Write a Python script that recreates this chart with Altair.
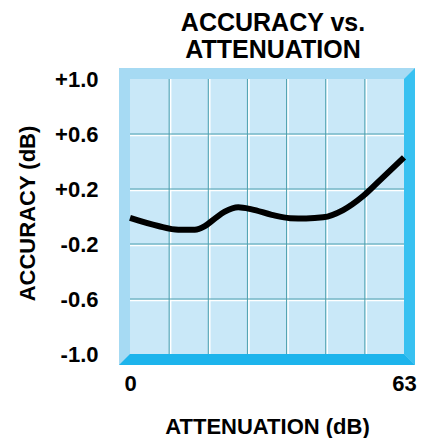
import altair as alt
import pandas as pd

# ---- data ----
atten = [0, 6.5, 11.1, 14.9, 17.2, 19.5, 21.8, 24.9, 28.0, 32.6, 36.8, 40.5, 44.4, 49.0, 53.6, 57.5, 63]
accuracy = [-0.01, -0.069, -0.096, -0.097, -0.07, -0.015, 0.035, 0.067, 0.052, 0.012, -0.012, -0.014, -0.006, 0.047, 0.149, 0.265, 0.43]
x_ticks = [0, 63]
x_grid = [9, 18, 27, 36, 45, 54]
y_ticks = [-1.0, -0.6, -0.2, 0.2, 0.6, 1.0]
y_grid = [-0.6, -0.2, 0.2, 0.6]
title_lines = ["ACCURACY vs.", "ATTENUATION"]
x_title = "ATTENUATION (dB)"
y_title = "ACCURACY (dB)"

# ---- layout / style ----
W, H, B = 274, 275, 11
FONT = "Liberation Sans"
INNER = "#c9e8f8"
FACE_LIGHT = "#a6daf3"
FACE_RIGHT = "#38c1f1"
FACE_BOTTOM = "#1db4ec"
GRID = "#4c9fae"

xs = alt.Scale(domain=[0, 63], nice=False, zero=False)
ys = alt.Scale(domain=[-1, 1], nice=False, zero=False)

one = alt.Data(values=[{}])

outer = alt.Chart(one).mark_rect(color=FACE_LIGHT).encode(
    x=alt.value(-B), x2=alt.value(W + B), y=alt.value(-B), y2=alt.value(H + B))

right_face = alt.Chart(alt.Data(values=[
    {"px": W, "py": 0, "py2": H},
    {"px": W + B, "py": -B, "py2": H + B},
])).mark_area(color=FACE_RIGHT, orient="vertical").encode(
    x=alt.X("px:Q", scale=None, axis=None),
    y=alt.Y("py:Q", scale=None, axis=None),
    y2="py2:Q")

bottom_face = alt.Chart(alt.Data(values=[
    {"py": H, "px": 0, "px2": W},
    {"py": H + B, "px": -B, "px2": W + B},
])).mark_area(color=FACE_BOTTOM, orient="horizontal").encode(
    y=alt.Y("py:Q", scale=None, axis=None),
    x=alt.X("px:Q", scale=None, axis=None),
    x2="px2:Q")

inner = alt.Chart(one).mark_rect(color=INNER).encode(
    x=alt.value(0), x2=alt.value(W), y=alt.value(0), y2=alt.value(H))

vdf = pd.DataFrame({"g": x_grid})
hdf = pd.DataFrame({"g": y_grid})

v_white = alt.Chart(vdf).mark_rule(color="white", strokeWidth=1.5, xOffset=1.5).encode(
    x=alt.X("g:Q", scale=xs, axis=None), y=alt.value(0), y2=alt.value(H))
v_grid = alt.Chart(vdf).mark_rule(color=GRID, strokeWidth=1).encode(
    x=alt.X("g:Q", scale=xs, axis=None), y=alt.value(0), y2=alt.value(H))
h_white = alt.Chart(hdf).mark_rule(color="white", strokeWidth=1.5, yOffset=1.5).encode(
    y=alt.Y("g:Q", scale=ys, axis=None), x=alt.value(0), x2=alt.value(W))
h_grid = alt.Chart(hdf).mark_rule(color=GRID, strokeWidth=1).encode(
    y=alt.Y("g:Q", scale=ys, axis=None), x=alt.value(0), x2=alt.value(W))

df = pd.DataFrame({"atten": atten, "acc": accuracy})
line = alt.Chart(df).mark_line(color="black", strokeWidth=6, interpolate="monotone").encode(
    x=alt.X("atten:Q", scale=xs, title=x_title,
            axis=alt.Axis(values=x_ticks, domain=False, ticks=False, tickSize=0, grid=False,
                          labelFlush=False, labelPadding=19, labelFontSize=22,
                          labelFont=FONT, labelFontWeight="bold", labelColor="black",
                          titleFont=FONT, titleFontSize=22, titleFontWeight="bold",
                          titleColor="black", titleX=W / 2, titleY=72,
                          titleBaseline="middle", titleAlign="center")),
    y=alt.Y("acc:Q", scale=ys, title=y_title,
            axis=alt.Axis(values=y_ticks, format="+.1f",
                          labelExpr="replace(datum.label, '\u2212', '-')",
                          domain=False, ticks=False, tickSize=0, grid=False,
                          labelPadding=32, labelFontSize=22, labelFont=FONT,
                          labelFontWeight="bold", labelColor="black", labelBaseline="middle",
                          titleFont=FONT, titleFontSize=22, titleFontWeight="bold",
                          titleColor="black", titleX=-103, titleY=134,
                          titleBaseline="middle", titleAlign="center", titleAngle=-90)),
)

chart = alt.layer(
    outer, right_face, bottom_face, inner, v_white, h_white, v_grid, h_grid, line
).resolve_scale(x="independent", y="independent").properties(
    width=W, height=H,
    autosize=alt.AutoSizeParams(type="none"),
    padding={"left": 122, "top": 71, "right": 16, "bottom": 86},
    title=alt.TitleParams(text=title_lines, font=FONT, fontSize=25, fontWeight="bold",
                          color="black", anchor="middle", frame="group", offset=5,
                          lineHeight=27, dx=6),
).configure_view(strokeWidth=0)

chart.save("out.html", embed_options={"renderer": "svg", "actions": False})
